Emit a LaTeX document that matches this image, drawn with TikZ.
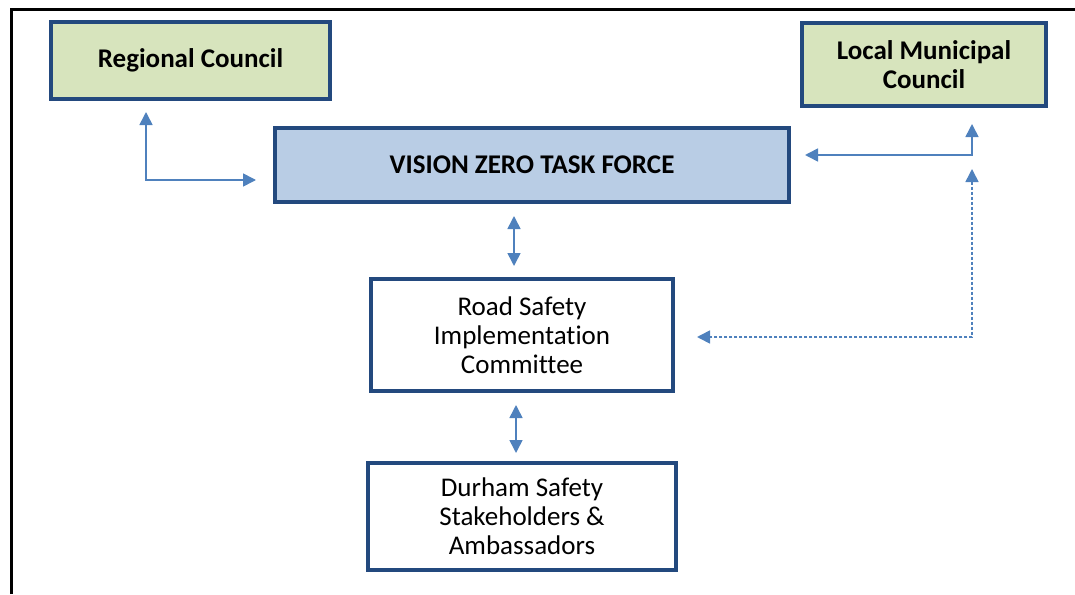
\documentclass[tikz,border=0pt]{standalone}
\usepackage{fontspec}
\setmainfont{Carlito}[Ligatures=NoCommon]
\usetikzlibrary{arrows.meta,calc}
\definecolor{boxedge}{HTML}{23497E}
\definecolor{greenfill}{HTML}{D7E4BD}
\definecolor{bluefill}{HTML}{B9CDE5}
\definecolor{linkblue}{HTML}{4F81BD}
\begin{document}
\begin{tikzpicture}[x=1pt,y=-1pt,
  box/.style={draw=boxedge,line width=4pt,rectangle,align=center,inner sep=0pt,
    font=\fontsize{27}{29}\selectfont},
  boldbox/.style={box,font=\fontsize{27}{29}\selectfont\bfseries},
  link/.style={draw=linkblue,line width=1.6pt,
    arrows={Triangle[length=13pt,width=13pt]-Triangle[length=13pt,width=13pt]}},
  dotlink/.style={link,dash pattern=on 3pt off 2pt}]
\useasboundingbox (0,0) rectangle (1075,594);
% outer frame (left and top edges)
\draw[line width=3pt] (11,594) -- (11,10) -- (1075,10);
% boxes
\node[boldbox,fill=greenfill,minimum width=279pt,minimum height=77pt] (reg) at (190.5,60.5) {Regional Council};
\node[boldbox,fill=greenfill,minimum width=244pt,minimum height=83pt] (loc) at (924,64.5) {Local Municipal\\Council};
\node[boldbox,fill=bluefill,minimum width=514pt,minimum height=74pt] (vz) at (532,165) {VISION ZERO TASK FORCE};
\node[box,fill=white,minimum width=302pt,minimum height=112pt] (rs) at (522,335) {Road Safety\\Implementation\\Committee};
\node[box,fill=white,minimum width=308pt,minimum height=107pt] (dur) at (522,516.5) {Durham Safety\\Stakeholders \&\\Ambassadors};
% connectors
\draw[link] ($(reg.south)+(-44.5,11)$) |- ($(vz.west)+(-17,15)$);
\draw[link] ($(loc.south)+(48,16)$) |- ($(vz.east)+(14,-10)$);
\draw[dotlink] ($(loc.south)+(48,61)$) |- ($(rs.east)+(22,2)$);
\draw[link] ($(vz.south)+(-18,12)$) -- ($(rs.north)+(-8,-11)$);
\draw[link] ($(rs.south)+(-6,12)$) -- ($(dur.north)+(-6,-8)$);
\end{tikzpicture}
\end{document}
